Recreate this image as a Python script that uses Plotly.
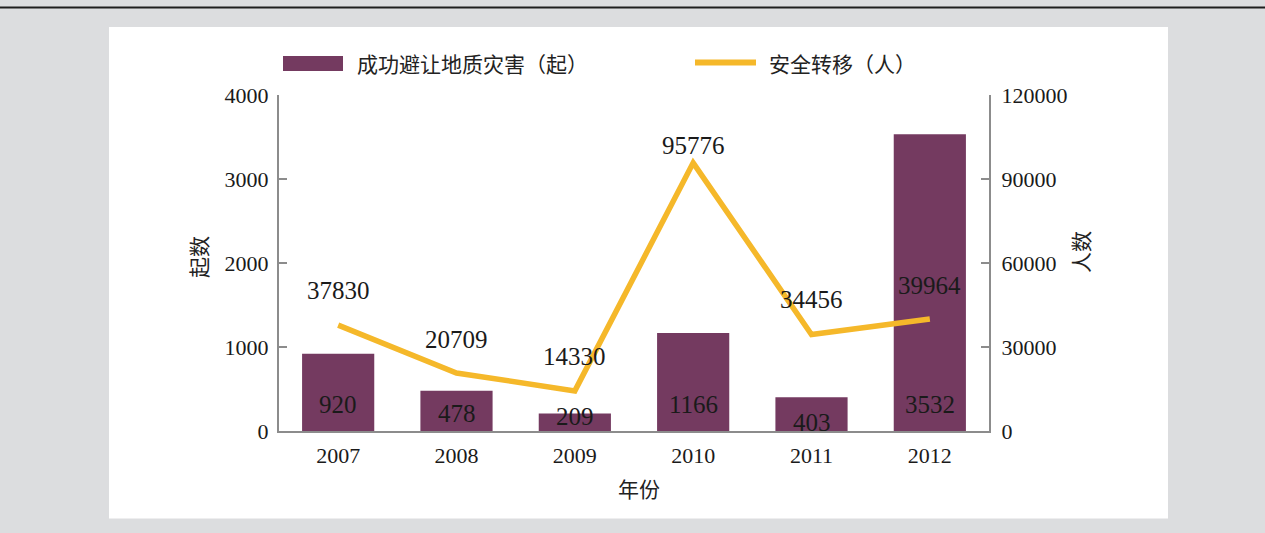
import plotly.graph_objects as go

# Data
years = [2007, 2008, 2009, 2010, 2011, 2012]
disasters_avoided = [920, 478, 209, 1166, 403, 3532]          # 成功避让地质灾害（起）
people_moved = [37830, 20709, 14330, 95776, 34456, 39964]     # 安全转移（人）
left_ticks = [0, 1000, 2000, 3000, 4000]
right_ticks = [0, 30000, 60000, 90000, 120000]

# Label placement (pixel shifts)
bar_label_shift = [27, 18, 15, 27, 9, 27]
line_label_shift = [35, 34, 34, 17, 35, 34]

BAR_COLOR = "#743a60"
LINE_COLOR = "#f5b82a"
AXIS_COLOR = "#8c8c8c"
SERIF = "Liberation Serif, Times New Roman, serif"
CJK = "Noto Sans CJK SC, sans-serif"

W, H = 1265, 533
L, R, T, B = 279, 276, 95, 102
PW, PH = W - L - R, H - T - B


def px(x):
    return (x - L) / PW


def py(y):
    return (H - B - y) / PH


fig = go.Figure()
fig.add_trace(go.Bar(
    x=years, y=disasters_avoided, marker_color=BAR_COLOR,
    marker_line_width=0, yaxis="y", showlegend=False, hoverinfo="x+y",
))
fig.add_trace(go.Scatter(
    x=years, y=people_moved, mode="lines",
    line=dict(color=LINE_COLOR, width=5.5), yaxis="y2",
    showlegend=False, hoverinfo="x+y",
))

annotations = []
for yr, v, s in zip(years, disasters_avoided, bar_label_shift):
    annotations.append(dict(
        x=yr, y=0, xref="x", yref="y", text=str(v), showarrow=False,
        yanchor="middle", yshift=s,
        font=dict(family=SERIF, size=25, color="#1a1a1a"),
    ))
for yr, v, s in zip(years, people_moved, line_label_shift):
    annotations.append(dict(
        x=yr, y=v, xref="x", yref="y2", text=str(v), showarrow=False,
        yanchor="middle", yshift=s,
        font=dict(family=SERIF, size=25, color="#1a1a1a"),
    ))

# Axis titles
annotations += [
    dict(x=px(198), y=py(257), xref="paper", yref="paper", text="起数",
         textangle=-90, showarrow=False, xanchor="center", yanchor="middle",
         font=dict(family=CJK, size=21, color="#222")),
    dict(x=px(1080), y=py(252), xref="paper", yref="paper", text="人数",
         textangle=-90, showarrow=False, xanchor="center", yanchor="middle",
         font=dict(family=CJK, size=21, color="#222")),
    dict(x=px(639), y=py(488), xref="paper", yref="paper", text="年份",
         showarrow=False, xanchor="center", yanchor="middle",
         font=dict(family=CJK, size=21, color="#222")),
]

# Legend text
annotations += [
    dict(x=px(355), y=py(63), xref="paper", yref="paper",
         text="成功避让地质灾害（起）", showarrow=False,
         xanchor="left", yanchor="middle",
         font=dict(family=CJK, size=21, color="#222")),
    dict(x=px(767), y=py(63), xref="paper", yref="paper",
         text="安全转移（人）", showarrow=False,
         xanchor="left", yanchor="middle",
         font=dict(family=CJK, size=21, color="#222")),
]

shapes = [
    # white panel
    dict(type="rect", xref="paper", yref="paper", layer="below",
         x0=px(109), x1=px(1168), y0=py(518.5), y1=py(27),
         fillcolor="white", line_width=0),
    # top rule
    dict(type="line", xref="paper", yref="paper",
         x0=px(0), x1=px(W), y0=py(7.5), y1=py(7.5),
         line=dict(color="#1e1e1e", width=2)),
    # legend swatches
    dict(type="rect", xref="paper", yref="paper",
         x0=px(283), x1=px(343), y0=py(71), y1=py(56),
         fillcolor=BAR_COLOR, line_width=0),
    dict(type="line", xref="paper", yref="paper",
         x0=px(695), x1=px(756), y0=py(62.5), y1=py(62.5),
         line=dict(color=LINE_COLOR, width=6)),
]

axis_common = dict(
    showgrid=False, zeroline=False, showline=True, linecolor=AXIS_COLOR,
    linewidth=2, ticks="inside", ticklen=8, tickwidth=2, tickcolor=AXIS_COLOR,
    tickfont=dict(family=SERIF, size=22, color="#1a1a1a"),
    tickformat="d",
)

fig.update_layout(
    width=W, height=H,
    margin=dict(l=L, r=R, t=T, b=B, pad=0),
    paper_bgcolor="#dcdddf",
    plot_bgcolor="white",
    bargap=0.39,
    xaxis=dict(
        range=[years[0] - 0.5, years[-1] + 0.5], tickvals=years, tickformat="d",
        showgrid=False, zeroline=False, showline=True, linecolor=AXIS_COLOR,
        linewidth=2, ticks="", ticklabelstandoff=4,
        tickfont=dict(family=SERIF, size=22, color="#1a1a1a"),
    ),
    yaxis=dict(range=[0, 4000], tickvals=left_ticks, side="left",
               ticklabelstandoff=4, **axis_common),
    yaxis2=dict(range=[0, 120000], tickvals=right_ticks, side="right",
                overlaying="y", ticklabelstandoff=6, **axis_common),
    annotations=annotations,
    shapes=shapes,
)

fig.write_html("out.html")
